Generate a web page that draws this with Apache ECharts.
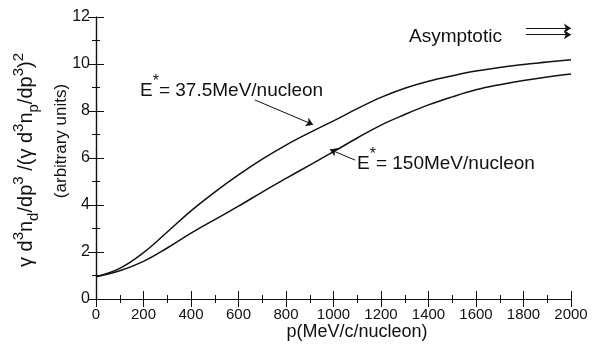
<!DOCTYPE html>
<html>
<head>
<meta charset="utf-8">
<script src="https://cdn.jsdelivr.net/npm/echarts@6/dist/echarts.min.js"></script>
<style>
  html, body { margin: 0; padding: 0; background: #fff; }
  #chart { width: 608px; height: 346px; }
</style>
</head>
<body>
<div id="chart"></div>
<script>
// momentum values (MeV/c/nucleon)
const pValues = [0, 100, 200, 300, 400, 500, 600, 700, 800, 900, 1000,
  1100, 1200, 1300, 1400, 1500, 1600, 1700, 1800, 1900, 2000]
// E* = 37.5 MeV/nucleon
const ratioLow = [0.95, 1.3, 1.97, 2.85, 3.75, 4.55, 5.28, 5.95, 6.55, 7.08, 7.58,
  8.1, 8.58, 8.97, 9.27, 9.5, 9.7, 9.85, 9.98, 10.08, 10.18]
// E* = 150 MeV/nucleon
const ratioHigh = [0.95, 1.2, 1.6, 2.17, 2.8, 3.38, 3.95, 4.55, 5.13, 5.7, 6.27,
  6.85, 7.4, 7.85, 8.26, 8.6, 8.9, 9.12, 9.3, 9.45, 9.57]
// asymptotic values shown by arrows
const asymptotes = [11.52, 11.25]

const chart = echarts.init(document.getElementById('chart'))

const font = 'Liberation Sans'
const black = '#111'

const toPairs = (ys) => pValues.map((p, i) => [p, ys[i]])

const baseX = {
  type: 'value', min: 0, max: 2000, interval: 200,
  axisLine: { show: true, lineStyle: { color: black, width: 1.2 } },
  axisTick: { show: true, inside: true, length: 8, lineStyle: { color: black } },
  minorTick: { show: true, splitNumber: 2, length: 4, lineStyle: { color: black } },
  splitLine: { show: false }
}
const baseY = {
  type: 'value', min: 0, max: 12, interval: 2,
  axisLine: { show: true, lineStyle: { color: black, width: 1.2 } },
  axisTick: { show: true, inside: true, length: 8, lineStyle: { color: black } },
  minorTick: { show: true, splitNumber: 2, length: 4, lineStyle: { color: black } },
  splitLine: { show: false }
}

const arrowLine = {
  silent: true,
  symbol: ['none', 'arrow'],
  symbolSize: 7,
  label: { show: false },
  lineStyle: { color: black, width: 1, type: 'solid' }
}

const option = {
  animation: false,
  backgroundColor: '#fff',
  grid: { left: 96, right: 37, top: 17, bottom: 47 },
  xAxis: [
    Object.assign({}, baseX, {
      position: 'bottom',
      axisLabel: { color: black, fontFamily: font, fontSize: 15, margin: 8, formatter: (v) => String(v) }
    }),
    Object.assign({}, baseX, { position: 'top', axisLabel: { show: false } })
  ],
  yAxis: [
    Object.assign({}, baseY, {
      position: 'left',
      axisLabel: { color: black, fontFamily: font, fontSize: 16, margin: 6 }
    }),
    Object.assign({}, baseY, { position: 'right', axisLabel: { show: false } })
  ],
  series: [
    {
      name: 'E*=37.5MeV/nucleon',
      type: 'line',
      smooth: 0.4,
      showSymbol: false,
      data: toPairs(ratioLow),
      lineStyle: { color: black, width: 1.5 },
      markLine: Object.assign({}, arrowLine, {
        data: [
          [{ coord: [669, 8.47] }, { coord: [914, 7.42] }],
          [{ coord: [1810, asymptotes[0]] }, { coord: [2000, asymptotes[0]] }],
          [{ coord: [1810, asymptotes[1]] }, { coord: [2000, asymptotes[1]] }]
        ]
      })
    },
    {
      name: 'E*=150MeV/nucleon',
      type: 'line',
      smooth: 0.4,
      showSymbol: false,
      data: toPairs(ratioHigh),
      lineStyle: { color: black, width: 1.5 },
      markLine: Object.assign({}, arrowLine, {
        data: [
          [{ coord: [1091, 5.91] }, { coord: [985, 6.36] }]
        ]
      })
    }
  ],
  graphic: [
    {
      type: 'text', left: 140, top: 74,
      style: {
        text: '{a|E}{s|*}{a|= 37.5MeV/nucleon}',
        fill: black,
        rich: {
          a: { fontFamily: font, fontSize: 19, lineHeight: 26, verticalAlign: 'bottom', fill: black },
          s: { fontFamily: font, fontSize: 16, lineHeight: 26, verticalAlign: 'top', fill: black }
        }
      }
    },
    {
      type: 'text', left: 357, top: 147,
      style: {
        text: '{a|E}{s|*}{a|= 150MeV/nucleon}',
        fill: black,
        rich: {
          a: { fontFamily: font, fontSize: 19, lineHeight: 26, verticalAlign: 'bottom', fill: black },
          s: { fontFamily: font, fontSize: 16, lineHeight: 26, verticalAlign: 'top', fill: black }
        }
      }
    },
    {
      type: 'text', left: 409, top: 27,
      style: { text: 'Asymptotic', fontFamily: font, fontSize: 19, fill: black }
    },
    {
      type: 'text', x: 357, y: 332,
      style: {
        text: 'p(MeV/c/nucleon)', fontFamily: font, fontSize: 18, fill: black,
        align: 'center', verticalAlign: 'middle'
      }
    },
    {
      type: 'text', x: 26, y: 160, rotation: Math.PI / 2,
      style: {
        text: '{a|γ d}{p|3}{a|n}{b|d}{a|/dp}{p|3}{a| /(γ d}{p|3}{a|n}{b|p}{a|/dp}{p|3}{a|)}{p|2}',
        align: 'center', verticalAlign: 'middle', fill: black,
        rich: {
          a: { fontFamily: font, fontSize: 20, lineHeight: 30, verticalAlign: 'middle', fill: black },
          p: { fontFamily: font, fontSize: 15, lineHeight: 30, verticalAlign: 'top', fill: black },
          b: { fontFamily: font, fontSize: 15, lineHeight: 30, verticalAlign: 'bottom', fill: black }
        }
      }
    },
    {
      type: 'text', x: 61, y: 141, rotation: Math.PI / 2,
      style: {
        text: '(arbitrary units)', fontFamily: font, fontSize: 17, fill: black,
        align: 'center', verticalAlign: 'middle'
      }
    }
  ]
}

chart.setOption(option)
</script>
</body>
</html>
